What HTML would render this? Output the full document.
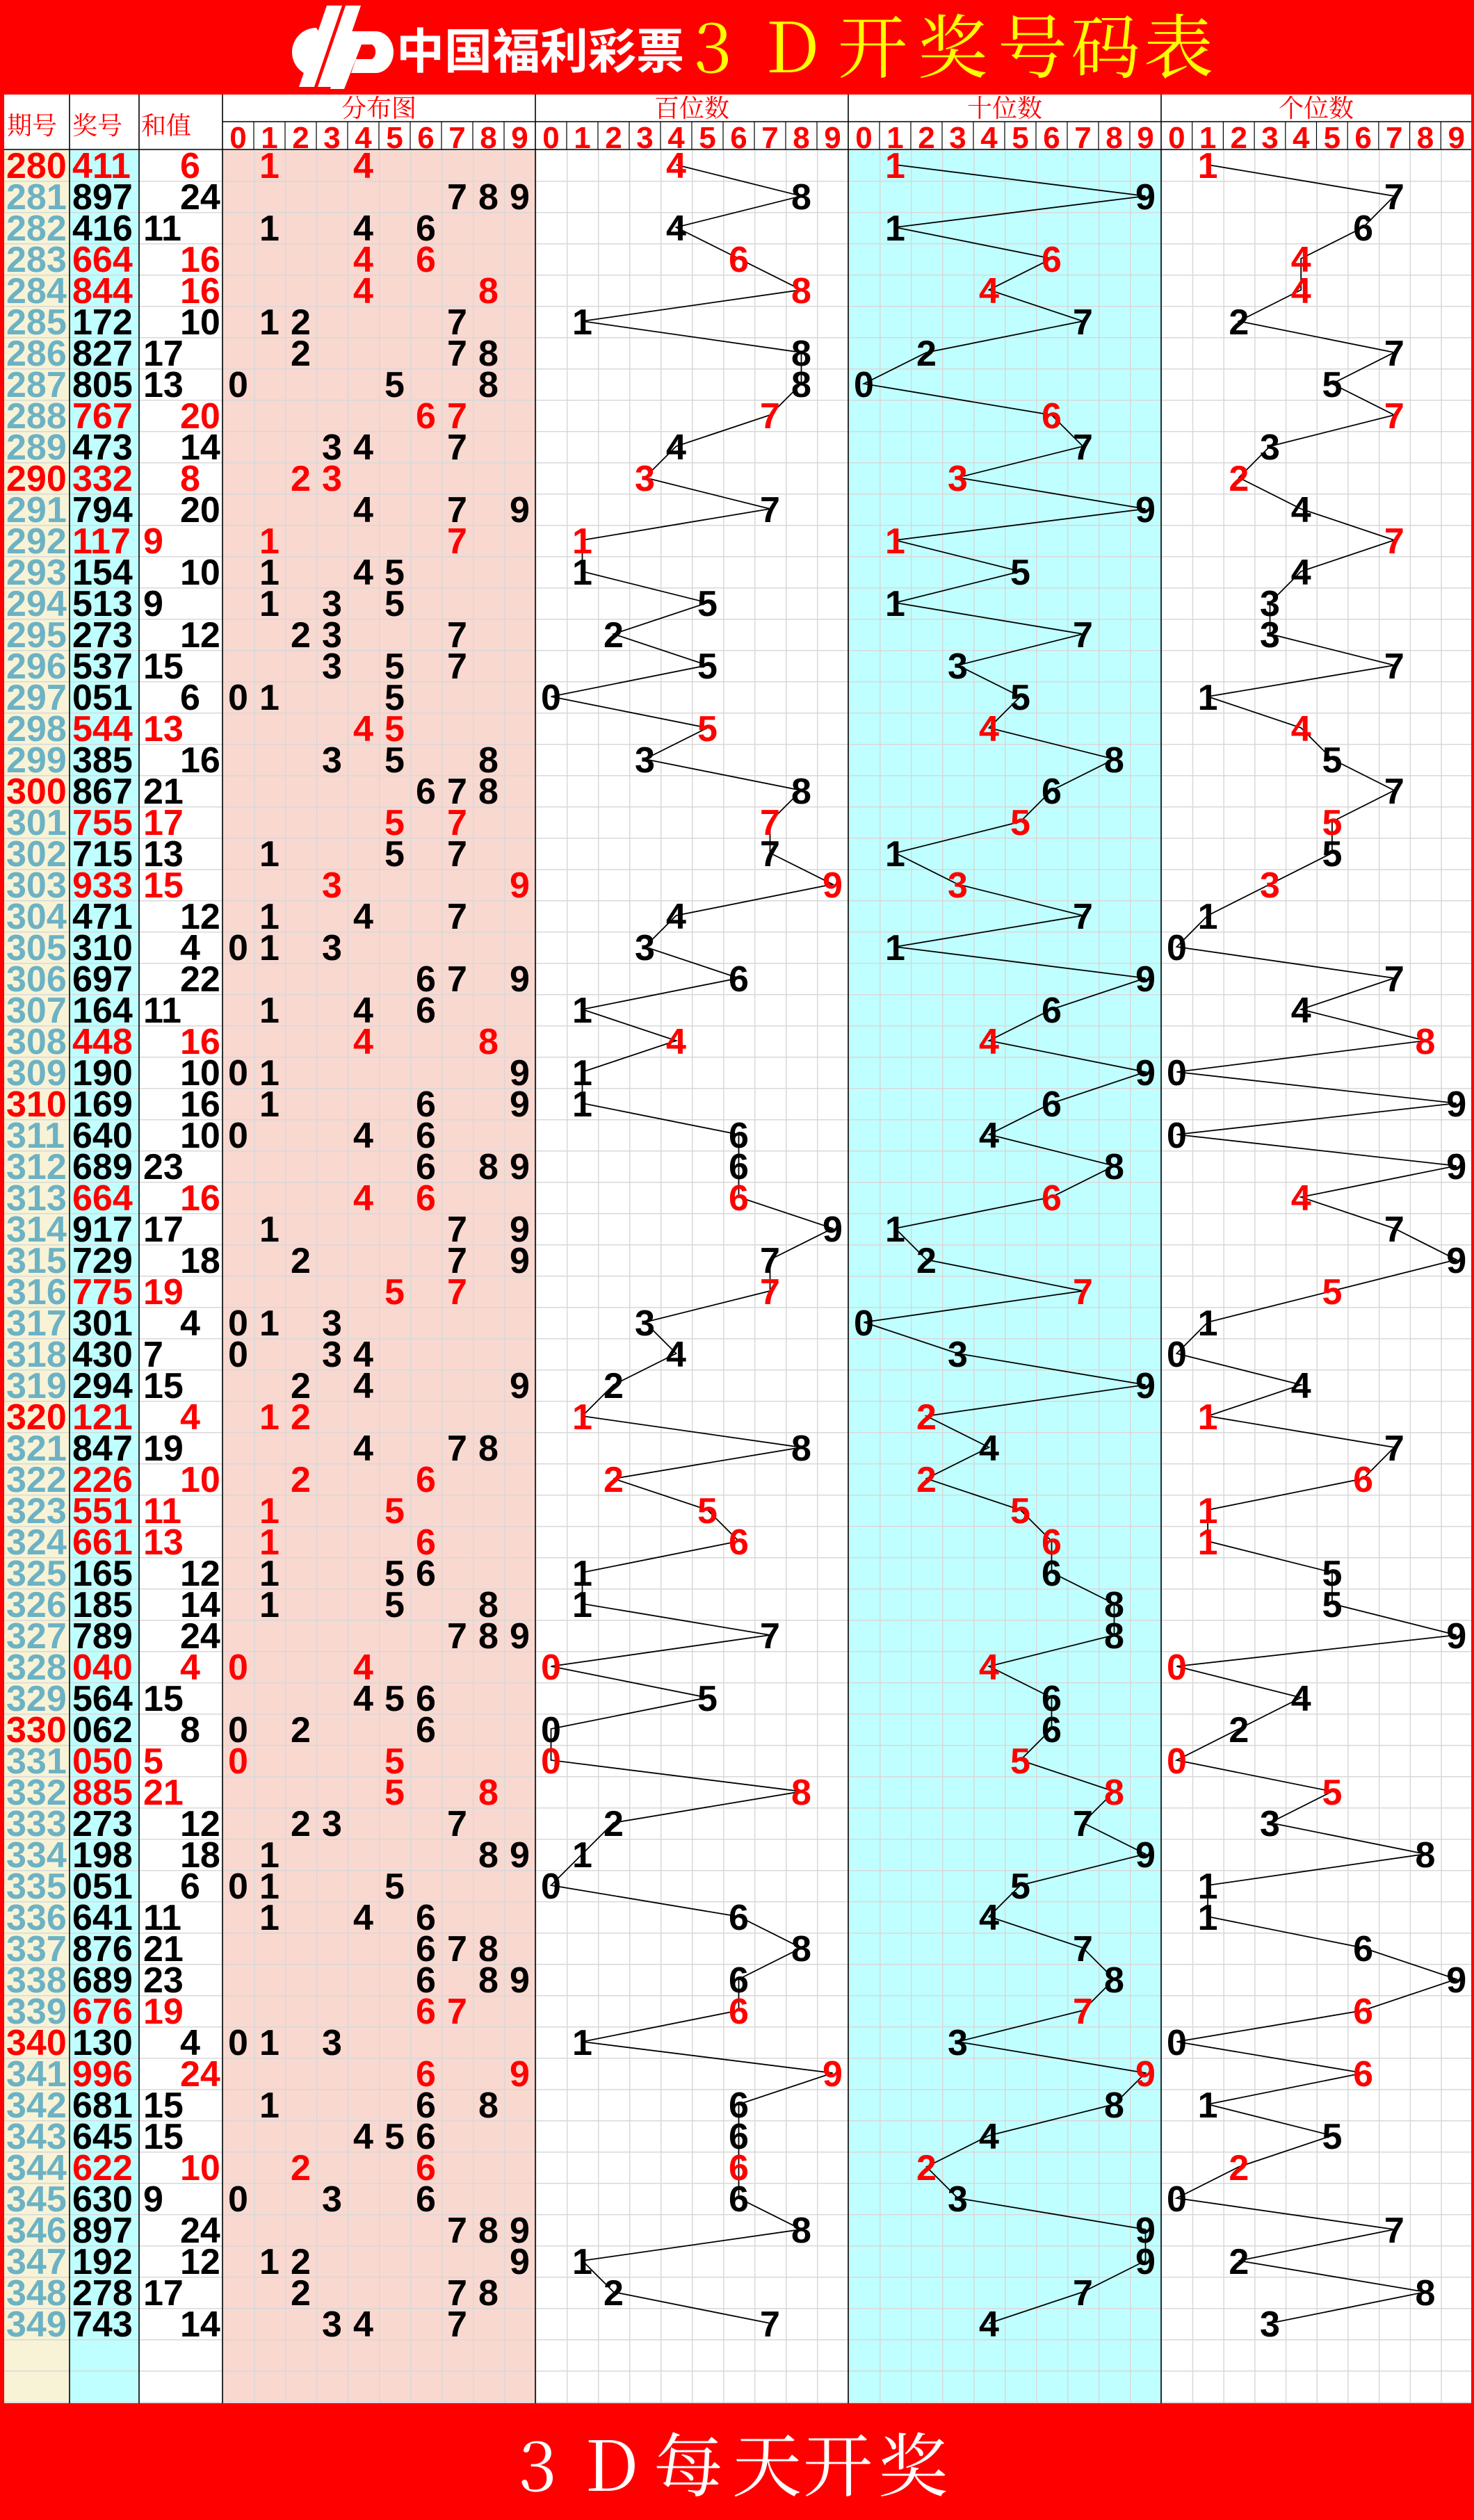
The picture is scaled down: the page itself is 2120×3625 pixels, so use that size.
<!DOCTYPE html>
<html><head><meta charset="utf-8">
<style>
html,body{margin:0;padding:0;background:#fff;}
svg{display:block;}
.d{font-family:"Liberation Sans",Arial,sans-serif;font-weight:bold;font-size:52px;}
.m{text-anchor:middle;}
.r{fill:#ff0000;}
.t{fill:#6cb2c4;}
.hd{font-family:"Noto Serif CJK SC","Liberation Serif",serif;fill:#ff0000;font-size:36px;}
.hn{font-family:"Liberation Sans",Arial,sans-serif;font-weight:bold;font-size:44px;fill:#ff0000;text-anchor:middle;}
.pl{fill:none;stroke:#000;stroke-width:1.8;}
</style></head><body>
<svg xmlns="http://www.w3.org/2000/svg" width="2120" height="3625" viewBox="0 0 2120 3625">
<defs>
<pattern id="gh" x="0" y="215" width="2120" height="45" patternUnits="userSpaceOnUse"><rect x="0" y="0" width="2120" height="1.5" fill="#d8d8d8"/></pattern>
<pattern id="gv" x="320" y="0" width="45" height="20" patternUnits="userSpaceOnUse"><rect x="0" y="0" width="1.5" height="20" fill="#d8d8d8"/></pattern>
<pattern id="gv2" x="1670" y="0" width="44.7" height="20" patternUnits="userSpaceOnUse"><rect x="0" y="0" width="1.5" height="20" fill="#d8d8d8"/></pattern>
</defs>
<!-- red frame -->
<rect x="0" y="0" width="2120" height="3625" fill="#ff0000"/>
<rect x="6" y="136" width="2110" height="3321" fill="#ffffff"/>
<!-- column backgrounds -->
<rect x="6" y="215" width="94" height="3242" fill="#f8f3d6"/>
<rect x="100" y="215" width="100" height="3242" fill="#c0ffff"/>
<rect x="320" y="215" width="450" height="3242" fill="#f9d8d0"/>
<rect x="1220" y="215" width="450" height="3242" fill="#c0ffff"/>
<!-- grid -->
<rect x="6" y="216" width="2110" height="3241" fill="url(#gh)"/>
<rect x="320" y="215" width="1350" height="3242" fill="url(#gv)"/>
<rect x="1670" y="215" width="446" height="3242" fill="url(#gv2)"/>
<!-- header lines -->
<g stroke="#000" stroke-width="1.6">
<line x1="320" y1="175" x2="2116" y2="175"/>
<line x1="6" y1="215" x2="2116" y2="215"/>
<line x1="100" y1="136" x2="100" y2="3457"/>
<line x1="200" y1="136" x2="200" y2="3457"/>
<line x1="320" y1="136" x2="320" y2="3457"/>
<line x1="770" y1="136" x2="770" y2="3457"/>
<line x1="1220" y1="136" x2="1220" y2="3457"/>
<line x1="1670" y1="136" x2="1670" y2="3457"/>
</g>
<g stroke="#000" stroke-width="1.2">
<line x1="365" y1="175" x2="365" y2="215"/><line x1="410" y1="175" x2="410" y2="215"/><line x1="455" y1="175" x2="455" y2="215"/><line x1="500" y1="175" x2="500" y2="215"/><line x1="545" y1="175" x2="545" y2="215"/><line x1="590" y1="175" x2="590" y2="215"/><line x1="635" y1="175" x2="635" y2="215"/><line x1="680" y1="175" x2="680" y2="215"/><line x1="725" y1="175" x2="725" y2="215"/>
<line x1="815" y1="175" x2="815" y2="215"/><line x1="860" y1="175" x2="860" y2="215"/><line x1="905" y1="175" x2="905" y2="215"/><line x1="950" y1="175" x2="950" y2="215"/><line x1="995" y1="175" x2="995" y2="215"/><line x1="1040" y1="175" x2="1040" y2="215"/><line x1="1085" y1="175" x2="1085" y2="215"/><line x1="1130" y1="175" x2="1130" y2="215"/><line x1="1175" y1="175" x2="1175" y2="215"/>
<line x1="1265" y1="175" x2="1265" y2="215"/><line x1="1310" y1="175" x2="1310" y2="215"/><line x1="1355" y1="175" x2="1355" y2="215"/><line x1="1400" y1="175" x2="1400" y2="215"/><line x1="1445" y1="175" x2="1445" y2="215"/><line x1="1490" y1="175" x2="1490" y2="215"/><line x1="1535" y1="175" x2="1535" y2="215"/><line x1="1580" y1="175" x2="1580" y2="215"/><line x1="1625" y1="175" x2="1625" y2="215"/>
<line x1="1714.7" y1="175" x2="1714.7" y2="215"/><line x1="1759.4" y1="175" x2="1759.4" y2="215"/><line x1="1804.1" y1="175" x2="1804.1" y2="215"/><line x1="1848.8" y1="175" x2="1848.8" y2="215"/><line x1="1893.5" y1="175" x2="1893.5" y2="215"/><line x1="1938.2" y1="175" x2="1938.2" y2="215"/><line x1="1982.9" y1="175" x2="1982.9" y2="215"/><line x1="2027.6" y1="175" x2="2027.6" y2="215"/><line x1="2072.3" y1="175" x2="2072.3" y2="215"/>
</g>
<!-- header text -->
<text class="hd" x="10" y="193">期号</text>
<text class="hd" x="104" y="193">奖号</text>
<text class="hd" x="203" y="193">和值</text>
<text class="hd" x="545" y="168" text-anchor="middle">分布图</text>
<text class="hd" x="995" y="168" text-anchor="middle">百位数</text>
<text class="hd" x="1445" y="168" text-anchor="middle">十位数</text>
<text class="hd" x="1893" y="168" text-anchor="middle">个位数</text>
<text class="hn" x="342.5 387.5 432.5 477.5 522.5 567.5 612.5 657.5 702.5 747.5" y="213">0123456789</text>
<text class="hn" x="792.5 837.5 882.5 927.5 972.5 1017.5 1062.5 1107.5 1152.5 1197.5" y="213">0123456789</text>
<text class="hn" x="1242.5 1287.5 1332.5 1377.5 1422.5 1467.5 1512.5 1557.5 1602.5 1647.5" y="213">0123456789</text>
<text class="hn" x="1692.4 1737.1 1781.8 1826.5 1871.2 1915.9 1960.6 2005.3 2050 2094.7" y="213">0123456789</text>
<!-- title -->
<g fill="#fff">
<path d="M455 40 A34 34 0 1 0 455 110 L462 88 A14 14 0 1 1 466 58 Z"/>
<polygon points="470,8 492,8 452,125 430,125"/>
<polygon points="497,8 519,8 479,125 457,125"/>
<path d="M498 45 L540 45 A26 30 0 0 1 540 105 L505 105 L512 85 L535 85 A10 12 0 0 0 535 64 L520 64 L495 128 L475 128 Z"/>
</g>
<text x="570" y="98" fill="#fff" font-family="Noto Sans CJK SC,sans-serif" font-weight="bold" font-size="69">中国福利彩票</text>
<text x="1025 1140 1255 1370 1485 1590 1695" y="104" fill="#ffff00" font-family="Noto Serif CJK SC,serif" font-size="100" text-anchor="middle">3D开奖号码表</text>
<text x="773 880 990 1103 1205 1313" y="3583" fill="#fff" font-family="Noto Serif CJK SC,serif" font-size="100" text-anchor="middle">3D每天开奖</text>
<!-- trend lines -->
<polyline class="pl" vector-effect="non-scaling-stroke" transform="translate(792.5 237) scale(45 45)" points="4,0 8,1 4,2 6,3 8,4 1,5 8,6 8,7 7,8 4,9 3,10 7,11 1,12 1,13 5,14 2,15 5,16 0,17 5,18 3,19 8,20 7,21 7,22 9,23 4,24 3,25 6,26 1,27 4,28 1,29 1,30 6,31 6,32 6,33 9,34 7,35 7,36 3,37 4,38 2,39 1,40 8,41 2,42 5,43 6,44 1,45 1,46 7,47 0,48 5,49 0,50 0,51 8,52 2,53 1,54 0,55 6,56 8,57 6,58 6,59 1,60 9,61 6,62 6,63 6,64 6,65 8,66 1,67 2,68 7,69"/>
<polyline class="pl" vector-effect="non-scaling-stroke" transform="translate(1242.5 237) scale(45 45)" points="1,0 9,1 1,2 6,3 4,4 7,5 2,6 0,7 6,8 7,9 3,10 9,11 1,12 5,13 1,14 7,15 3,16 5,17 4,18 8,19 6,20 5,21 1,22 3,23 7,24 1,25 9,26 6,27 4,28 9,29 6,30 4,31 8,32 6,33 1,34 2,35 7,36 0,37 3,38 9,39 2,40 4,41 2,42 5,43 6,44 6,45 8,46 8,47 4,48 6,49 6,50 5,51 8,52 7,53 9,54 5,55 4,56 7,57 8,58 7,59 3,60 9,61 8,62 4,63 2,64 3,65 9,66 9,67 7,68 4,69"/>
<polyline class="pl" vector-effect="non-scaling-stroke" transform="translate(1692.4 237) scale(44.7 45)" points="1,0 7,1 6,2 4,3 4,4 2,5 7,6 5,7 7,8 3,9 2,10 4,11 7,12 4,13 3,14 3,15 7,16 1,17 4,18 5,19 7,20 5,21 5,22 3,23 1,24 0,25 7,26 4,27 8,28 0,29 9,30 0,31 9,32 4,33 7,34 9,35 5,36 1,37 0,38 4,39 1,40 7,41 6,42 1,43 1,44 5,45 5,46 9,47 0,48 4,49 2,50 0,51 5,52 3,53 8,54 1,55 1,56 6,57 9,58 6,59 0,60 6,61 1,62 5,63 2,64 0,65 7,66 2,67 8,68 3,69"/>
<!-- rows -->
<g class="d">
<text y="256" class="r"><tspan x="9">280</tspan><tspan x="104">411</tspan><tspan x="259">6</tspan></text>
<text class="m r" y="256" x="387.5 522.5 972.5 1287.5 1737.1">14411</text>
<text y="301"><tspan x="9" class="t">281</tspan><tspan x="104">897</tspan><tspan x="259">24</tspan></text>
<text class="m" y="301" x="657.5 702.5 747.5 1152.5 1647.5 2005.3">789897</text>
<text y="346"><tspan x="9" class="t">282</tspan><tspan x="104">416</tspan><tspan x="206">11</tspan></text>
<text class="m" y="346" x="387.5 522.5 612.5 972.5 1287.5 1960.6">146416</text>
<text y="391" class="r"><tspan x="9" class="t">283</tspan><tspan x="104">664</tspan><tspan x="259">16</tspan></text>
<text class="m r" y="391" x="522.5 612.5 1062.5 1512.5 1871.2">46664</text>
<text y="436" class="r"><tspan x="9" class="t">284</tspan><tspan x="104">844</tspan><tspan x="259">16</tspan></text>
<text class="m r" y="436" x="522.5 702.5 1152.5 1422.5 1871.2">48844</text>
<text y="481"><tspan x="9" class="t">285</tspan><tspan x="104">172</tspan><tspan x="259">10</tspan></text>
<text class="m" y="481" x="387.5 432.5 657.5 837.5 1557.5 1781.8">127172</text>
<text y="526"><tspan x="9" class="t">286</tspan><tspan x="104">827</tspan><tspan x="206">17</tspan></text>
<text class="m" y="526" x="432.5 657.5 702.5 1152.5 1332.5 2005.3">278827</text>
<text y="571"><tspan x="9" class="t">287</tspan><tspan x="104">805</tspan><tspan x="206">13</tspan></text>
<text class="m" y="571" x="342.5 567.5 702.5 1152.5 1242.5 1915.9">058805</text>
<text y="616" class="r"><tspan x="9" class="t">288</tspan><tspan x="104">767</tspan><tspan x="259">20</tspan></text>
<text class="m r" y="616" x="612.5 657.5 1107.5 1512.5 2005.3">67767</text>
<text y="661"><tspan x="9" class="t">289</tspan><tspan x="104">473</tspan><tspan x="259">14</tspan></text>
<text class="m" y="661" x="477.5 522.5 657.5 972.5 1557.5 1826.5">347473</text>
<text y="706" class="r"><tspan x="9">290</tspan><tspan x="104">332</tspan><tspan x="259">8</tspan></text>
<text class="m r" y="706" x="432.5 477.5 927.5 1377.5 1781.8">23332</text>
<text y="751"><tspan x="9" class="t">291</tspan><tspan x="104">794</tspan><tspan x="259">20</tspan></text>
<text class="m" y="751" x="522.5 657.5 747.5 1107.5 1647.5 1871.2">479794</text>
<text y="796" class="r"><tspan x="9" class="t">292</tspan><tspan x="104">117</tspan><tspan x="206">9</tspan></text>
<text class="m r" y="796" x="387.5 657.5 837.5 1287.5 2005.3">17117</text>
<text y="841"><tspan x="9" class="t">293</tspan><tspan x="104">154</tspan><tspan x="259">10</tspan></text>
<text class="m" y="841" x="387.5 522.5 567.5 837.5 1467.5 1871.2">145154</text>
<text y="886"><tspan x="9" class="t">294</tspan><tspan x="104">513</tspan><tspan x="206">9</tspan></text>
<text class="m" y="886" x="387.5 477.5 567.5 1017.5 1287.5 1826.5">135513</text>
<text y="931"><tspan x="9" class="t">295</tspan><tspan x="104">273</tspan><tspan x="259">12</tspan></text>
<text class="m" y="931" x="432.5 477.5 657.5 882.5 1557.5 1826.5">237273</text>
<text y="976"><tspan x="9" class="t">296</tspan><tspan x="104">537</tspan><tspan x="206">15</tspan></text>
<text class="m" y="976" x="477.5 567.5 657.5 1017.5 1377.5 2005.3">357537</text>
<text y="1021"><tspan x="9" class="t">297</tspan><tspan x="104">051</tspan><tspan x="259">6</tspan></text>
<text class="m" y="1021" x="342.5 387.5 567.5 792.5 1467.5 1737.1">015051</text>
<text y="1066" class="r"><tspan x="9" class="t">298</tspan><tspan x="104">544</tspan><tspan x="206">13</tspan></text>
<text class="m r" y="1066" x="522.5 567.5 1017.5 1422.5 1871.2">45544</text>
<text y="1111"><tspan x="9" class="t">299</tspan><tspan x="104">385</tspan><tspan x="259">16</tspan></text>
<text class="m" y="1111" x="477.5 567.5 702.5 927.5 1602.5 1915.9">358385</text>
<text y="1156"><tspan x="9" class="r">300</tspan><tspan x="104">867</tspan><tspan x="206">21</tspan></text>
<text class="m" y="1156" x="612.5 657.5 702.5 1152.5 1512.5 2005.3">678867</text>
<text y="1201" class="r"><tspan x="9" class="t">301</tspan><tspan x="104">755</tspan><tspan x="206">17</tspan></text>
<text class="m r" y="1201" x="567.5 657.5 1107.5 1467.5 1915.9">57755</text>
<text y="1246"><tspan x="9" class="t">302</tspan><tspan x="104">715</tspan><tspan x="206">13</tspan></text>
<text class="m" y="1246" x="387.5 567.5 657.5 1107.5 1287.5 1915.9">157715</text>
<text y="1291" class="r"><tspan x="9" class="t">303</tspan><tspan x="104">933</tspan><tspan x="206">15</tspan></text>
<text class="m r" y="1291" x="477.5 747.5 1197.5 1377.5 1826.5">39933</text>
<text y="1336"><tspan x="9" class="t">304</tspan><tspan x="104">471</tspan><tspan x="259">12</tspan></text>
<text class="m" y="1336" x="387.5 522.5 657.5 972.5 1557.5 1737.1">147471</text>
<text y="1381"><tspan x="9" class="t">305</tspan><tspan x="104">310</tspan><tspan x="259">4</tspan></text>
<text class="m" y="1381" x="342.5 387.5 477.5 927.5 1287.5 1692.4">013310</text>
<text y="1426"><tspan x="9" class="t">306</tspan><tspan x="104">697</tspan><tspan x="259">22</tspan></text>
<text class="m" y="1426" x="612.5 657.5 747.5 1062.5 1647.5 2005.3">679697</text>
<text y="1471"><tspan x="9" class="t">307</tspan><tspan x="104">164</tspan><tspan x="206">11</tspan></text>
<text class="m" y="1471" x="387.5 522.5 612.5 837.5 1512.5 1871.2">146164</text>
<text y="1516" class="r"><tspan x="9" class="t">308</tspan><tspan x="104">448</tspan><tspan x="259">16</tspan></text>
<text class="m r" y="1516" x="522.5 702.5 972.5 1422.5 2050">48448</text>
<text y="1561"><tspan x="9" class="t">309</tspan><tspan x="104">190</tspan><tspan x="259">10</tspan></text>
<text class="m" y="1561" x="342.5 387.5 747.5 837.5 1647.5 1692.4">019190</text>
<text y="1606"><tspan x="9" class="r">310</tspan><tspan x="104">169</tspan><tspan x="259">16</tspan></text>
<text class="m" y="1606" x="387.5 612.5 747.5 837.5 1512.5 2094.7">169169</text>
<text y="1651"><tspan x="9" class="t">311</tspan><tspan x="104">640</tspan><tspan x="259">10</tspan></text>
<text class="m" y="1651" x="342.5 522.5 612.5 1062.5 1422.5 1692.4">046640</text>
<text y="1696"><tspan x="9" class="t">312</tspan><tspan x="104">689</tspan><tspan x="206">23</tspan></text>
<text class="m" y="1696" x="612.5 702.5 747.5 1062.5 1602.5 2094.7">689689</text>
<text y="1741" class="r"><tspan x="9" class="t">313</tspan><tspan x="104">664</tspan><tspan x="259">16</tspan></text>
<text class="m r" y="1741" x="522.5 612.5 1062.5 1512.5 1871.2">46664</text>
<text y="1786"><tspan x="9" class="t">314</tspan><tspan x="104">917</tspan><tspan x="206">17</tspan></text>
<text class="m" y="1786" x="387.5 657.5 747.5 1197.5 1287.5 2005.3">179917</text>
<text y="1831"><tspan x="9" class="t">315</tspan><tspan x="104">729</tspan><tspan x="259">18</tspan></text>
<text class="m" y="1831" x="432.5 657.5 747.5 1107.5 1332.5 2094.7">279729</text>
<text y="1876" class="r"><tspan x="9" class="t">316</tspan><tspan x="104">775</tspan><tspan x="206">19</tspan></text>
<text class="m r" y="1876" x="567.5 657.5 1107.5 1557.5 1915.9">57775</text>
<text y="1921"><tspan x="9" class="t">317</tspan><tspan x="104">301</tspan><tspan x="259">4</tspan></text>
<text class="m" y="1921" x="342.5 387.5 477.5 927.5 1242.5 1737.1">013301</text>
<text y="1966"><tspan x="9" class="t">318</tspan><tspan x="104">430</tspan><tspan x="206">7</tspan></text>
<text class="m" y="1966" x="342.5 477.5 522.5 972.5 1377.5 1692.4">034430</text>
<text y="2011"><tspan x="9" class="t">319</tspan><tspan x="104">294</tspan><tspan x="206">15</tspan></text>
<text class="m" y="2011" x="432.5 522.5 747.5 882.5 1647.5 1871.2">249294</text>
<text y="2056" class="r"><tspan x="9">320</tspan><tspan x="104">121</tspan><tspan x="259">4</tspan></text>
<text class="m r" y="2056" x="387.5 432.5 837.5 1332.5 1737.1">12121</text>
<text y="2101"><tspan x="9" class="t">321</tspan><tspan x="104">847</tspan><tspan x="206">19</tspan></text>
<text class="m" y="2101" x="522.5 657.5 702.5 1152.5 1422.5 2005.3">478847</text>
<text y="2146" class="r"><tspan x="9" class="t">322</tspan><tspan x="104">226</tspan><tspan x="259">10</tspan></text>
<text class="m r" y="2146" x="432.5 612.5 882.5 1332.5 1960.6">26226</text>
<text y="2191" class="r"><tspan x="9" class="t">323</tspan><tspan x="104">551</tspan><tspan x="206">11</tspan></text>
<text class="m r" y="2191" x="387.5 567.5 1017.5 1467.5 1737.1">15551</text>
<text y="2236" class="r"><tspan x="9" class="t">324</tspan><tspan x="104">661</tspan><tspan x="206">13</tspan></text>
<text class="m r" y="2236" x="387.5 612.5 1062.5 1512.5 1737.1">16661</text>
<text y="2281"><tspan x="9" class="t">325</tspan><tspan x="104">165</tspan><tspan x="259">12</tspan></text>
<text class="m" y="2281" x="387.5 567.5 612.5 837.5 1512.5 1915.9">156165</text>
<text y="2326"><tspan x="9" class="t">326</tspan><tspan x="104">185</tspan><tspan x="259">14</tspan></text>
<text class="m" y="2326" x="387.5 567.5 702.5 837.5 1602.5 1915.9">158185</text>
<text y="2371"><tspan x="9" class="t">327</tspan><tspan x="104">789</tspan><tspan x="259">24</tspan></text>
<text class="m" y="2371" x="657.5 702.5 747.5 1107.5 1602.5 2094.7">789789</text>
<text y="2416" class="r"><tspan x="9" class="t">328</tspan><tspan x="104">040</tspan><tspan x="259">4</tspan></text>
<text class="m r" y="2416" x="342.5 522.5 792.5 1422.5 1692.4">04040</text>
<text y="2461"><tspan x="9" class="t">329</tspan><tspan x="104">564</tspan><tspan x="206">15</tspan></text>
<text class="m" y="2461" x="522.5 567.5 612.5 1017.5 1512.5 1871.2">456564</text>
<text y="2506"><tspan x="9" class="r">330</tspan><tspan x="104">062</tspan><tspan x="259">8</tspan></text>
<text class="m" y="2506" x="342.5 432.5 612.5 792.5 1512.5 1781.8">026062</text>
<text y="2551" class="r"><tspan x="9" class="t">331</tspan><tspan x="104">050</tspan><tspan x="206">5</tspan></text>
<text class="m r" y="2551" x="342.5 567.5 792.5 1467.5 1692.4">05050</text>
<text y="2596" class="r"><tspan x="9" class="t">332</tspan><tspan x="104">885</tspan><tspan x="206">21</tspan></text>
<text class="m r" y="2596" x="567.5 702.5 1152.5 1602.5 1915.9">58885</text>
<text y="2641"><tspan x="9" class="t">333</tspan><tspan x="104">273</tspan><tspan x="259">12</tspan></text>
<text class="m" y="2641" x="432.5 477.5 657.5 882.5 1557.5 1826.5">237273</text>
<text y="2686"><tspan x="9" class="t">334</tspan><tspan x="104">198</tspan><tspan x="259">18</tspan></text>
<text class="m" y="2686" x="387.5 702.5 747.5 837.5 1647.5 2050">189198</text>
<text y="2731"><tspan x="9" class="t">335</tspan><tspan x="104">051</tspan><tspan x="259">6</tspan></text>
<text class="m" y="2731" x="342.5 387.5 567.5 792.5 1467.5 1737.1">015051</text>
<text y="2776"><tspan x="9" class="t">336</tspan><tspan x="104">641</tspan><tspan x="206">11</tspan></text>
<text class="m" y="2776" x="387.5 522.5 612.5 1062.5 1422.5 1737.1">146641</text>
<text y="2821"><tspan x="9" class="t">337</tspan><tspan x="104">876</tspan><tspan x="206">21</tspan></text>
<text class="m" y="2821" x="612.5 657.5 702.5 1152.5 1557.5 1960.6">678876</text>
<text y="2866"><tspan x="9" class="t">338</tspan><tspan x="104">689</tspan><tspan x="206">23</tspan></text>
<text class="m" y="2866" x="612.5 702.5 747.5 1062.5 1602.5 2094.7">689689</text>
<text y="2911" class="r"><tspan x="9" class="t">339</tspan><tspan x="104">676</tspan><tspan x="206">19</tspan></text>
<text class="m r" y="2911" x="612.5 657.5 1062.5 1557.5 1960.6">67676</text>
<text y="2956"><tspan x="9" class="r">340</tspan><tspan x="104">130</tspan><tspan x="259">4</tspan></text>
<text class="m" y="2956" x="342.5 387.5 477.5 837.5 1377.5 1692.4">013130</text>
<text y="3001" class="r"><tspan x="9" class="t">341</tspan><tspan x="104">996</tspan><tspan x="259">24</tspan></text>
<text class="m r" y="3001" x="612.5 747.5 1197.5 1647.5 1960.6">69996</text>
<text y="3046"><tspan x="9" class="t">342</tspan><tspan x="104">681</tspan><tspan x="206">15</tspan></text>
<text class="m" y="3046" x="387.5 612.5 702.5 1062.5 1602.5 1737.1">168681</text>
<text y="3091"><tspan x="9" class="t">343</tspan><tspan x="104">645</tspan><tspan x="206">15</tspan></text>
<text class="m" y="3091" x="522.5 567.5 612.5 1062.5 1422.5 1915.9">456645</text>
<text y="3136" class="r"><tspan x="9" class="t">344</tspan><tspan x="104">622</tspan><tspan x="259">10</tspan></text>
<text class="m r" y="3136" x="432.5 612.5 1062.5 1332.5 1781.8">26622</text>
<text y="3181"><tspan x="9" class="t">345</tspan><tspan x="104">630</tspan><tspan x="206">9</tspan></text>
<text class="m" y="3181" x="342.5 477.5 612.5 1062.5 1377.5 1692.4">036630</text>
<text y="3226"><tspan x="9" class="t">346</tspan><tspan x="104">897</tspan><tspan x="259">24</tspan></text>
<text class="m" y="3226" x="657.5 702.5 747.5 1152.5 1647.5 2005.3">789897</text>
<text y="3271"><tspan x="9" class="t">347</tspan><tspan x="104">192</tspan><tspan x="259">12</tspan></text>
<text class="m" y="3271" x="387.5 432.5 747.5 837.5 1647.5 1781.8">129192</text>
<text y="3316"><tspan x="9" class="t">348</tspan><tspan x="104">278</tspan><tspan x="206">17</tspan></text>
<text class="m" y="3316" x="432.5 657.5 702.5 882.5 1557.5 2050">278278</text>
<text y="3361"><tspan x="9" class="t">349</tspan><tspan x="104">743</tspan><tspan x="259">14</tspan></text>
<text class="m" y="3361" x="477.5 522.5 657.5 1107.5 1422.5 1826.5">347743</text>
</g>
</svg>
</body></html>
